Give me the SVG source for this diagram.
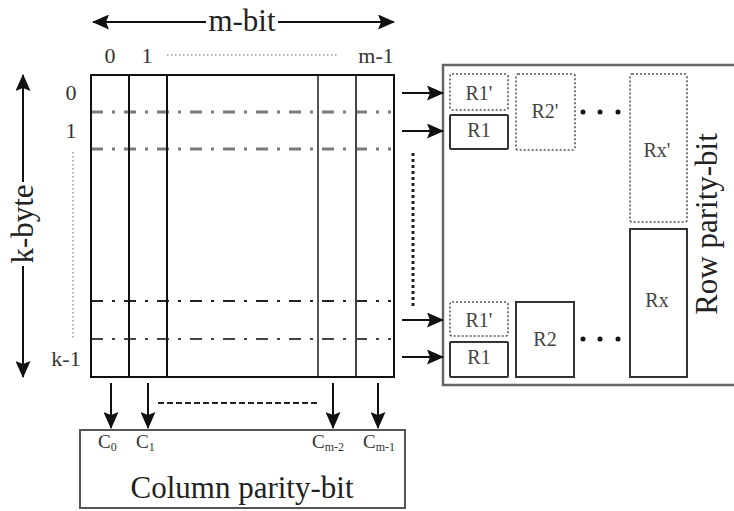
<svg xmlns="http://www.w3.org/2000/svg" width="734" height="511" viewBox="0 0 734 511">
  <style>
    .t { font-family: "Liberation Serif", "Times New Roman", serif; fill: #222; }
    .idx { font-size: 22px; text-anchor: middle; fill: #333; }
    .big { font-size: 31px; text-anchor: middle; }
    .rl { font-size: 20px; text-anchor: middle; fill: #444; }
    .cl { font-size: 19px; fill: #333; }
    .sub { font-size: 12px; }
    .solid { fill: #fff; stroke: #333; stroke-width: 2; }
    .dotted { fill: #fff; stroke: #555; stroke-width: 1.6; stroke-dasharray: 2 2; }
    .arrow { stroke: #111; stroke-width: 2; fill: none; marker-end: url(#ah); }
  </style>
  <defs>
    <marker id="ah" viewBox="0 0 17 15" refX="16" refY="7.5" markerWidth="17" markerHeight="15" markerUnits="userSpaceOnUse" orient="auto">
      <path d="M0,0 L17,7.5 L0,15 L3,7.5 z" fill="#111"/>
    </marker>
  </defs>
  <rect width="734" height="511" fill="#fff"/>

  <!-- m-bit / k-byte dimension arrows -->
  <g id="dimensions">
    <line x1="206" y1="22" x2="93" y2="22" stroke="#111" stroke-width="2" marker-end="url(#ah)"/>
    <line x1="278" y1="22" x2="394" y2="22" stroke="#111" stroke-width="2" marker-end="url(#ah)"/>
    <text class="t big" x="242" y="31" font-size="31">m-bit</text>
    <line x1="23" y1="182" x2="23" y2="75" stroke="#111" stroke-width="2" marker-end="url(#ah)"/>
    <line x1="23" y1="266" x2="23" y2="377" stroke="#111" stroke-width="2" marker-end="url(#ah)"/>
    <text class="t big" transform="translate(33,224) rotate(-90)">k-byte</text>
  </g>

  <!-- data matrix -->
  <g id="matrix">
    <text class="t idx" x="110" y="63">0</text>
    <text class="t idx" x="147" y="63">1</text>
    <text class="t idx" x="376" y="63">m-1</text>
    <line x1="167" y1="55" x2="337" y2="55" stroke="#999" stroke-width="1.5" stroke-dasharray="1.5 2.5"/>
    <text class="t idx" x="71" y="100">0</text>
    <text class="t idx" x="71" y="138">1</text>
    <text class="t idx" x="66" y="366">k-1</text>
    <line x1="73" y1="152" x2="73" y2="338" stroke="#999" stroke-width="1.5" stroke-dasharray="1.5 2.5"/>

    <g fill="none">
      <line x1="91" y1="112" x2="391" y2="112" stroke="#7a7a7a" stroke-width="3" stroke-dasharray="12 9 3 9"/>
      <line x1="91" y1="149" x2="391" y2="149" stroke="#7a7a7a" stroke-width="3" stroke-dasharray="12 9 3 9"/>
      <line x1="91" y1="301" x2="391" y2="301" stroke="#222" stroke-width="2" stroke-dasharray="12 9 3 9"/>
      <line x1="91" y1="339" x2="391" y2="339" stroke="#444" stroke-width="2" stroke-dasharray="12 9 3 9"/>
      <line x1="129" y1="75" x2="129" y2="377" stroke="#111" stroke-width="2"/>
      <line x1="167" y1="75" x2="167" y2="377" stroke="#111" stroke-width="2"/>
      <line x1="318" y1="75" x2="318" y2="377" stroke="#555" stroke-width="2"/>
      <line x1="356" y1="75" x2="356" y2="377" stroke="#444" stroke-width="2"/>
      <rect x="91" y="75" width="303" height="302" stroke="#111" stroke-width="2"/>
    </g>
  </g>

  <!-- row parity storage -->
  <g id="row-parity">
    <rect x="443" y="65" width="294" height="320" fill="#fff" stroke="#666" stroke-width="2.5"/>
    <text class="t big" transform="translate(717,224) rotate(-90)" font-size="32">Row parity-bit</text>
  </g>
  <g id="r1p-top"><rect class="dotted" x="450" y="74" width="58" height="36" rx="2"/><text class="t rl" x="479" y="100">R1'</text></g>
  <g id="r1-top"><rect class="solid" x="450" y="115" width="58" height="34" rx="1"/><text class="t rl" x="479" y="137">R1</text></g>
  <g id="r2p"><rect class="dotted" x="516" y="74" width="59" height="76" rx="2"/><text class="t rl" x="545" y="118">R2'</text></g>
  <g id="rxp"><rect class="dotted" x="630" y="74" width="57" height="148" rx="2"/><text class="t rl" x="657" y="157">Rx'</text></g>
  <g id="r1p-bottom"><rect class="dotted" x="450" y="302" width="58" height="34" rx="2"/><text class="t rl" x="479" y="327">R1'</text></g>
  <g id="r1-bottom"><rect class="solid" x="450" y="342" width="58" height="35" rx="1"/><text class="t rl" x="479" y="364">R1</text></g>
  <g id="r2"><rect class="solid" x="516" y="302" width="58" height="75"/><text class="t rl" x="545" y="346">R2</text></g>
  <g id="rx"><rect class="solid" x="630" y="229" width="57" height="148"/><text class="t rl" x="657" y="307">Rx</text></g>
  <g id="ellipsis" fill="#111">
    <circle cx="583" cy="112" r="2.5"/><circle cx="600" cy="112" r="2.5"/><circle cx="618" cy="112" r="2.5"/>
    <circle cx="583" cy="339" r="2.5"/><circle cx="600" cy="339" r="2.5"/><circle cx="618" cy="339" r="2.5"/>
  </g>

  <!-- column parity storage -->
  <g id="column-parity">
    <rect x="80" y="430" width="325" height="78" fill="#fff" stroke="#555" stroke-width="2"/>
    <text class="t cl" x="98" y="448">C<tspan class="sub" dy="3">0</tspan></text>
    <text class="t cl" x="136" y="448">C<tspan class="sub" dy="3">1</tspan></text>
    <text class="t cl" x="312" y="448">C<tspan class="sub" dy="3">m-2</tspan></text>
    <text class="t cl" x="363" y="448">C<tspan class="sub" dy="3">m-1</tspan></text>
    <text class="t big" x="242" y="498" font-size="32">Column parity-bit</text>
  </g>

  <!-- connectors -->
  <g id="connectors">
    <line class="arrow" x1="402" y1="93" x2="443" y2="93"/>
    <line class="arrow" x1="402" y1="131" x2="443" y2="131"/>
    <line class="arrow" x1="402" y1="320" x2="443" y2="320"/>
    <line class="arrow" x1="402" y1="357" x2="443" y2="357"/>
    <line x1="413" y1="153" x2="413" y2="308" stroke="#222" stroke-width="3" stroke-dasharray="3 3"/>
    <line class="arrow" x1="111" y1="383" x2="111" y2="428"/>
    <line class="arrow" x1="148" y1="383" x2="148" y2="428"/>
    <line class="arrow" x1="333" y1="383" x2="333" y2="428"/>
    <line class="arrow" x1="378" y1="383" x2="378" y2="428"/>
    <line x1="158" y1="403" x2="318" y2="403" stroke="#222" stroke-width="2" stroke-dasharray="6 3"/>
  </g>
</svg>
